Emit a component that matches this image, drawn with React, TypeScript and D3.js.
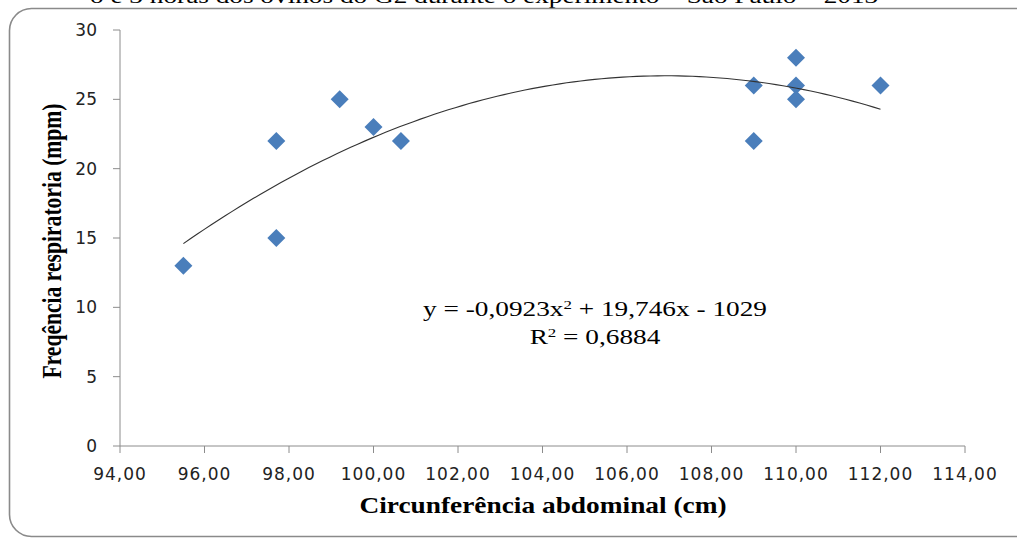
import React from "react";
import * as d3 from "d3";

const circAbdominal = [95.5, 97.7, 97.7, 99.2, 100, 100.65, 109, 109, 110, 110, 110, 112];
const freqResp = [13, 22, 15, 25, 23, 22, 26, 22, 28, 26, 25, 26];
const xTicks = [94, 96, 98, 100, 102, 104, 106, 108, 110, 112, 114];
const yTicks = [0, 5, 10, 15, 20, 25, 30];
const equationText = "y = -0,0923x";
const equationRest = " + 19,746x - 1029";
const r2Text = "= 0,6884";
const titleText = "o e 3 horas dos ovinos do G2 durante o experimento – São Paulo – 2013";

function quadFit(xs: number[], ys: number[]) {
  const mx = d3.mean(xs) as number;
  const u = xs.map((x) => x - mx);
  const n = xs.length;
  let s1 = 0, s2 = 0, s3 = 0, s4 = 0, t0 = 0, t1 = 0, t2 = 0;
  for (let i = 0; i < n; i++) {
    const a = u[i];
    s1 += a; s2 += a * a; s3 += a * a * a; s4 += a * a * a * a;
    t0 += ys[i]; t1 += a * ys[i]; t2 += a * a * ys[i];
  }
  const M = [
    [n, s1, s2, t0],
    [s1, s2, s3, t1],
    [s2, s3, s4, t2],
  ];
  for (let c = 0; c < 3; c++) {
    for (let r = c + 1; r < 3; r++) {
      const f = M[r][c] / M[c][c];
      for (let k = c; k < 4; k++) M[r][k] -= f * M[c][k];
    }
  }
  const b = [0, 0, 0];
  for (let r = 2; r >= 0; r--) {
    let s = M[r][3];
    for (let k = r + 1; k < 3; k++) s -= M[r][k] * b[k];
    b[r] = s / M[r][r];
  }
  return (x: number) => b[0] + b[1] * (x - mx) + b[2] * (x - mx) * (x - mx);
}

export default function App() {
  const W = 1017, H = 541;
  const x = d3.scaleLinear().domain([94, 114]).range([120, 965]);
  const y = d3.scaleLinear().domain([0, 30]).range([446, 30]);
  const f = quadFit(circAbdominal, freqResp);
  const xMin = d3.min(circAbdominal) as number;
  const xMax = d3.max(circAbdominal) as number;
  const curvePts = d3.range(0, 101).map((i) => xMin + ((xMax - xMin) * i) / 100);
  const line = d3.line<number>().x((d) => x(d)).y((d) => y(f(d))).curve(d3.curveLinear);
  const axisColor = "#8c8c8c";
  const tickFont = "'DejaVu Sans', Verdana, sans-serif";
  const serif = "'Liberation Serif', 'Times New Roman', serif";
  const diamond = (cx: number, cy: number, r: number) =>
    `M${cx},${cy - r}L${cx + r},${cy}L${cx},${cy + r}L${cx - r},${cy}Z`;

  return (
    <svg width={W} height={H} style={{ position: "absolute", left: 0, top: 0, background: "#fff" }}>
      <rect x={0} y={0} width={W} height={H} fill="#fff" />
      <text transform="translate(90,2.5) scale(1.24,1)" fontFamily={serif} fontSize={22} fill="#000">{titleText}</text>
      <rect x={9.5} y={8.5} width={1040} height={528} rx={22} ry={22} fill="none" stroke="#8a8a8a" strokeWidth={1.6} />
      {/* axes */}
      <line x1={120} x2={120} y1={y(30)} y2={y(0)} stroke={axisColor} strokeWidth={1} />
      <line x1={120} x2={x(114)} y1={y(0)} y2={y(0)} stroke={axisColor} strokeWidth={1} />
      {yTicks.map((t) => (
        <g key={"y" + t}>
          <line x1={113} x2={120} y1={y(t)} y2={y(t)} stroke={axisColor} />
          <text x={97} y={y(t)} dy="0.36em" textAnchor="end" fontFamily={tickFont} fontSize={17} fill="#222">{t}</text>
        </g>
      ))}
      {xTicks.map((t) => (
        <g key={"x" + t}>
          <line x1={x(t)} x2={x(t)} y1={446} y2={453} stroke={axisColor} />
          <text x={x(t)} y={480} textAnchor="middle" fontFamily={tickFont} fontSize={17} letterSpacing={1} fill="#222">{t.toFixed(2).replace(".", ",")}</text>
        </g>
      ))}
      {/* points */}
      {circAbdominal.map((cx, i) => (
        <path key={i} d={diamond(x(cx), y(freqResp[i]), 9)} fill="#4a7ebb" />
      ))}
      {/* trendline */}
      <path d={line(curvePts) || ""} fill="none" stroke="#333" strokeWidth={1.1} />
      {/* equation */}
      <text transform="translate(595,316) scale(1.3,1)" textAnchor="middle" fontFamily={serif} fontSize={21} fill="#000">
        {equationText}
        <tspan dy={-7} fontSize={13}>2</tspan>
        <tspan dy={7}>{equationRest}</tspan>
      </text>
      <text transform="translate(595,344) scale(1.3,1)" textAnchor="middle" fontFamily={serif} fontSize={21} fill="#000">
        R<tspan dy={-7} fontSize={13}>2</tspan>
        <tspan dy={7}> {r2Text}</tspan>
      </text>
      {/* axis titles */}
      <text transform="translate(543,513) scale(1.19,1)" textAnchor="middle" fontFamily={serif} fontWeight="bold" fontSize={23} fill="#000">Circunferência abdominal (cm)</text>
      <text transform="translate(61,241) scale(1.3,1) rotate(-90)" textAnchor="middle" fontFamily={serif} fontWeight="bold" fontSize={21.6} fill="#000">Freqência respiratoria (mpm)</text>
    </svg>
  );
}
